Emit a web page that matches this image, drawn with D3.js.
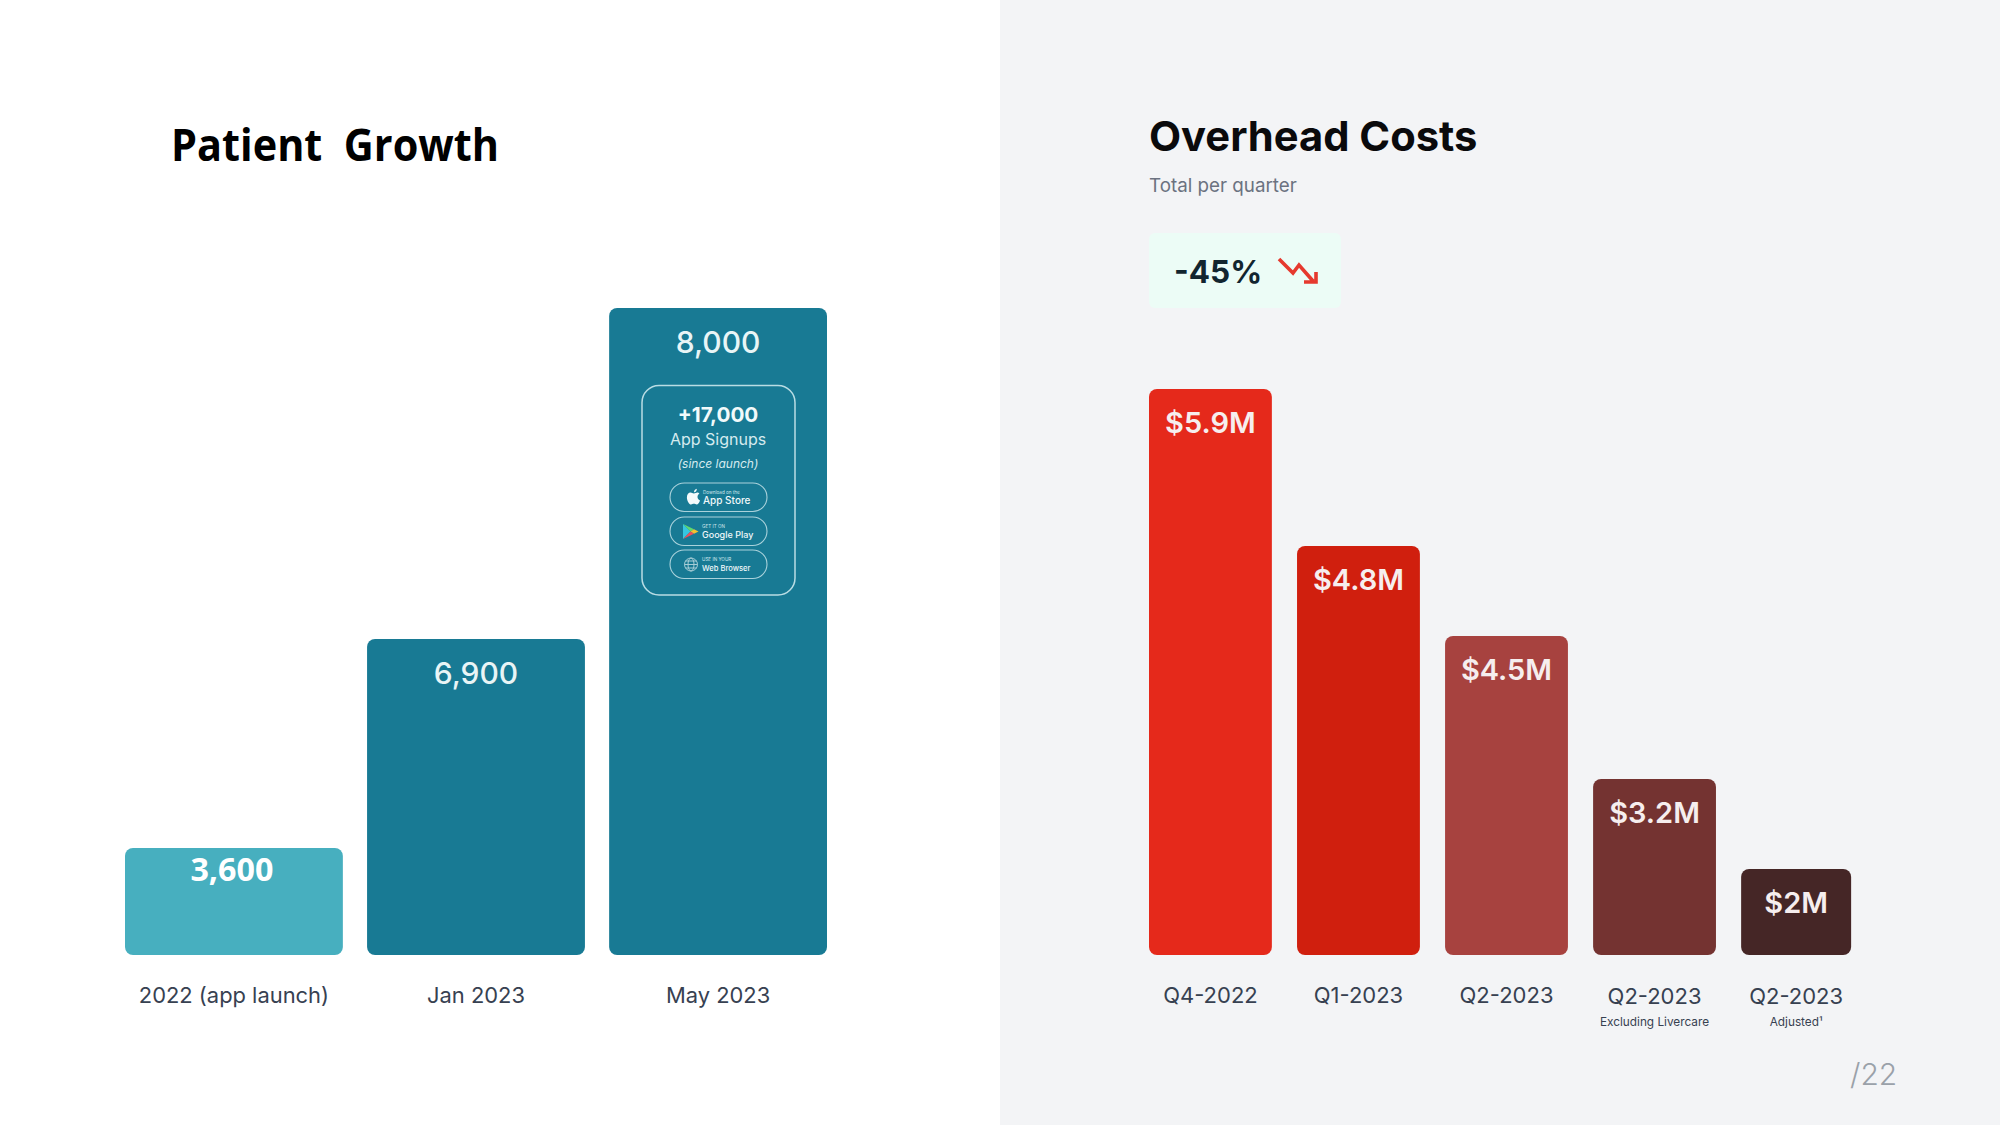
<!DOCTYPE html>
<html><head><meta charset="utf-8">
<script src="https://cdn.jsdelivr.net/npm/d3@7"></script>
<style>
html,body{margin:0;padding:0;background:#fff}
svg{display:block}
text{font-family:Inter,sans-serif;white-space:pre}
.axis path,.axis line{display:none}
</style></head><body>
<svg id="c" width="2000" height="1125"></svg>
<script>
// ---- data ----
const patientLabels = ["2022 (app launch)", "Jan 2023", "May 2023"];
const patientValues = [3600, 6900, 8000];
const costLabels = ["Q4-2022", "Q1-2023", "Q2-2023", "Q2-2023", "Q2-2023"];
const costSubLabels = ["", "", "", "Excluding Livercare", "Adjusted¹"];
const costValues = [5.9, 4.8, 4.5, 3.2, 2.0];
const costText = ["$5.9M", "$4.8M", "$4.5M", "$3.2M", "$2M"];
const signupLines = ["+17,000", "App Signups", "(since launch)"];
const storeSmall = ["Download on the", "GET IT ON", "USE IN YOUR"];
const storeBig = ["App Store", "Google Play", "Web Browser"];

// ---- styles ----
const patientColors = ["#47afbf", "#187a94", "#187a94"];
const costColors = ["#e5291b", "#d01f0e", "#a7423f", "#743331", "#452626"];
const BASE = 955;

const svg = d3.select("#c");
svg.append("rect").attr("x", 1000).attr("y", 0).attr("width", 1000).attr("height", 1125).attr("fill", "#f3f4f6");

// The source chart's bars are not proportional to their labels, so both
// value scales are piecewise, pinned to the drawn height of each value.
const yP = d3.scaleLinear().domain([0, 3600, 6900, 8000]).range([BASE, 848, 639, 308]);
const yC = d3.scaleLinear().domain([0, 2, 3.2, 4.5, 4.8, 5.9]).range([BASE, 869, 779, 636, 546, 389]);

const xP = d3.scaleBand().domain(patientLabels).range([125, 827]).paddingInner(0.1);
const xC = d3.scaleBand().domain(d3.range(costValues.length)).range([1149, 1864]).paddingInner(0.17);
const lastW = 110;
const wC = i => i === costValues.length - 1 ? lastW : xC.bandwidth();

// ---- titles ----
svg.append("text").attr("x", 171).attr("y", 161).text("Patient  Growth")
  .style("font-family", "'Open Sans'").attr("font-weight", 700).attr("font-size", 44).attr("fill", "#000")
  .attr("textLength", 328).attr("lengthAdjust", "spacingAndGlyphs");
svg.append("text").attr("x", 1149).attr("y", 151).text("Overhead Costs")
  .attr("font-weight", 700).attr("font-size", 41.7).attr("fill", "#0a0a0c");
svg.append("text").attr("x", 1149).attr("y", 192).text("Total per quarter")
  .attr("font-size", 18.8).attr("fill", "#6b7280");

// ---- left bars ----
svg.append("g").selectAll("rect").data(patientValues).join("rect")
  .attr("x", (d, i) => xP(patientLabels[i])).attr("y", d => yP(d))
  .attr("width", xP.bandwidth()).attr("height", d => BASE - yP(d))
  .attr("rx", 8).attr("fill", (d, i) => patientColors[i]);

svg.append("g").selectAll("text").data(patientValues).join("text")
  .attr("x", (d, i) => xP(patientLabels[i]) + xP.bandwidth() / 2 - (d === 3600 ? 2 : 0))
  .attr("y", d => yP(d) + (d === 3600 ? 33 : 45))
  .attr("text-anchor", "middle")
  .text(d3.format(","))
  .style("font-family", d => d === 3600 ? "'Open Sans'" : "Inter")
  .attr("font-weight", d => d === 3600 ? 700 : 500)
  .attr("font-size", d => d === 3600 ? 33 : 30)
  .attr("fill", d => d === 3600 ? "#fff" : "#e9f5f6")
  .each(function (d) { if (d === 3600) d3.select(this).attr("textLength", 83).attr("lengthAdjust", "spacingAndGlyphs"); });

const axP = svg.append("g").attr("class", "axis").attr("transform", `translate(0,${BASE})`)
  .call(d3.axisBottom(xP).tickSize(0).tickPadding(0));
axP.selectAll("text").attr("y", 48).attr("dy", 0).attr("font-size", 21.9).attr("fill", "#374151")
  .style("font-family", "Inter");

// ---- signup card ----
const card = svg.append("g");
card.append("rect").attr("x", 642).attr("y", 385.5).attr("width", 153).attr("height", 209.5).attr("rx", 17)
  .attr("fill", "none").attr("stroke", "#b9dde4").attr("stroke-width", 1.5);
const cx = 717;
card.selectAll("text.s").data(signupLines).join("text").attr("class", "s")
  .attr("x", cx + 1).attr("y", (d, i) => [422, 445, 468][i]).attr("text-anchor", "middle").text(d => d)
  .attr("font-size", (d, i) => [20.7, 16, 12][i])
  .attr("font-weight", (d, i) => i === 0 ? 700 : 400)
  .attr("font-style", (d, i) => i === 2 ? "italic" : "normal")
  .attr("fill", (d, i) => i === 0 ? "#f2fafb" : "#d5ebef");

const pillTop = [483, 517, 550];
const bigSize = [10, 9, 7.6];
storeBig.forEach((name, i) => {
  const g = card.append("g").attr("transform", `translate(0,${pillTop[i]})`);
  g.append("rect").attr("x", 670).attr("y", 0).attr("width", 97).attr("height", 28.5).attr("rx", 14.25)
    .attr("fill", "none").attr("stroke", "#a9d2db").attr("stroke-width", 1.1);
  const tx = i === 0 ? 703 : 702;
  g.append("text").attr("x", tx).attr("y", 11).text(storeSmall[i]).attr("font-size", 4.6).attr("fill", "#cfe7ec");
  g.append("text").attr("x", tx).attr("y", 21).text(name)
    .attr("font-size", bigSize[i]).attr("font-weight", 500).attr("fill", "#f0f8fa");
  if (i === 0) {
    g.append("path").attr("fill", "#f4fafb").attr("transform", "translate(4,0)")
      .attr("d", "M693.5 9.5c-1.4 0-2.2.9-3.6.9s-2-.9-3.3-.9c-2 0-3.7 1.900-3.700 4.900 0 3.300 2.300 7.100 4.200 7.100 1 0 1.500-.7 2.800-.7s1.700.7 2.800.7c1.300 0 2.700-2.100 3.300-4.100-1.600-.7-2.500-2-2.500-3.500 0-1.400.7-2.500 1.900-3.200-.5-.8-1.500-1.200-1.900-1.200zM690 9.300c0-1.800 1.100-3.200 2.800-3.600.2 1.900-1.100 3.500-2.800 3.600z");
  } else if (i === 1) {
    const parts = [["#36c6e0", "M683 7v15l7.500-7.500z"], ["#5fd86f", "M683 7l11 5.200-3.500 2.300z"],
      ["#f2c230", "M694 12.200l4.500 2.300-4.500 2.300-3.500-2.300z"], ["#e8505b", "M683 22l11-5.200-3.500-2.300z"]];
    parts.forEach(p => g.append("path").attr("d", p[1]).attr("fill", p[0]));
  } else {
    const gl = g.append("g").attr("fill", "none").attr("stroke", "#a6cdd6").attr("stroke-width", 1);
    gl.append("circle").attr("cx", 691).attr("cy", 14.5).attr("r", 6.5);
    gl.append("ellipse").attr("cx", 691).attr("cy", 14.5).attr("rx", 3).attr("ry", 6.5);
    gl.append("path").attr("d", "M684.500 14.500h13M685.500 11h11M685.500 18h11");
  }
});

// ---- right bars ----
svg.append("g").selectAll("rect").data(costValues).join("rect")
  .attr("x", (d, i) => xC(i)).attr("y", d => yC(d))
  .attr("width", (d, i) => wC(i)).attr("height", d => BASE - yC(d))
  .attr("rx", 8).attr("fill", (d, i) => costColors[i]);

svg.append("g").selectAll("text").data(costValues).join("text")
  .attr("x", (d, i) => xC(i) + wC(i) / 2).attr("y", d => yC(d) + 44)
  .attr("text-anchor", "middle").text((d, i) => costText[i])
  .attr("font-size", 29).attr("font-weight", 600).attr("fill", "#f6eeee");

const axC = svg.append("g").attr("class", "axis").attr("transform", `translate(0,${BASE})`)
  .call(d3.axisBottom(xC).tickSize(0).tickPadding(0).tickFormat(i => costLabels[i]));
axC.selectAll(".tick").attr("transform", i => `translate(${xC(i) + wC(i) / 2},0)`);
axC.selectAll("text").attr("y", i => i >= 3 ? 49 : 48).attr("dy", 0).attr("font-size", 22).attr("fill", "#374151")
  .style("font-family", "Inter");

svg.append("g").selectAll("text").data(costSubLabels).join("text")
  .attr("x", (d, i) => xC(i) + wC(i) / 2).attr("y", 1026).attr("text-anchor", "middle")
  .text(d => d).attr("font-size", 11.8).attr("fill", "#374151");

// ---- badge ----
svg.append("rect").attr("x", 1149).attr("y", 233).attr("width", 192).attr("height", 75).attr("rx", 6).attr("fill", "#ecfcf6");
svg.append("text").attr("x", 1174).attr("y", 283).text("-45%")
  .attr("font-size", 31.5).attr("font-weight", 700).attr("fill", "#12252f");
svg.append("path").attr("d", "M1279 259l14 14 6-8 14 16M1316 272v10h-12")
  .attr("fill", "none").attr("stroke", "#e6392e").attr("stroke-width", 3.6);

// ---- page number ----
svg.append("text").attr("x", 1850).attr("y", 1085).text("/22")
  .attr("font-size", 30).attr("font-weight", 300).attr("fill", "#9aa1a9");
</script>
</body></html>
